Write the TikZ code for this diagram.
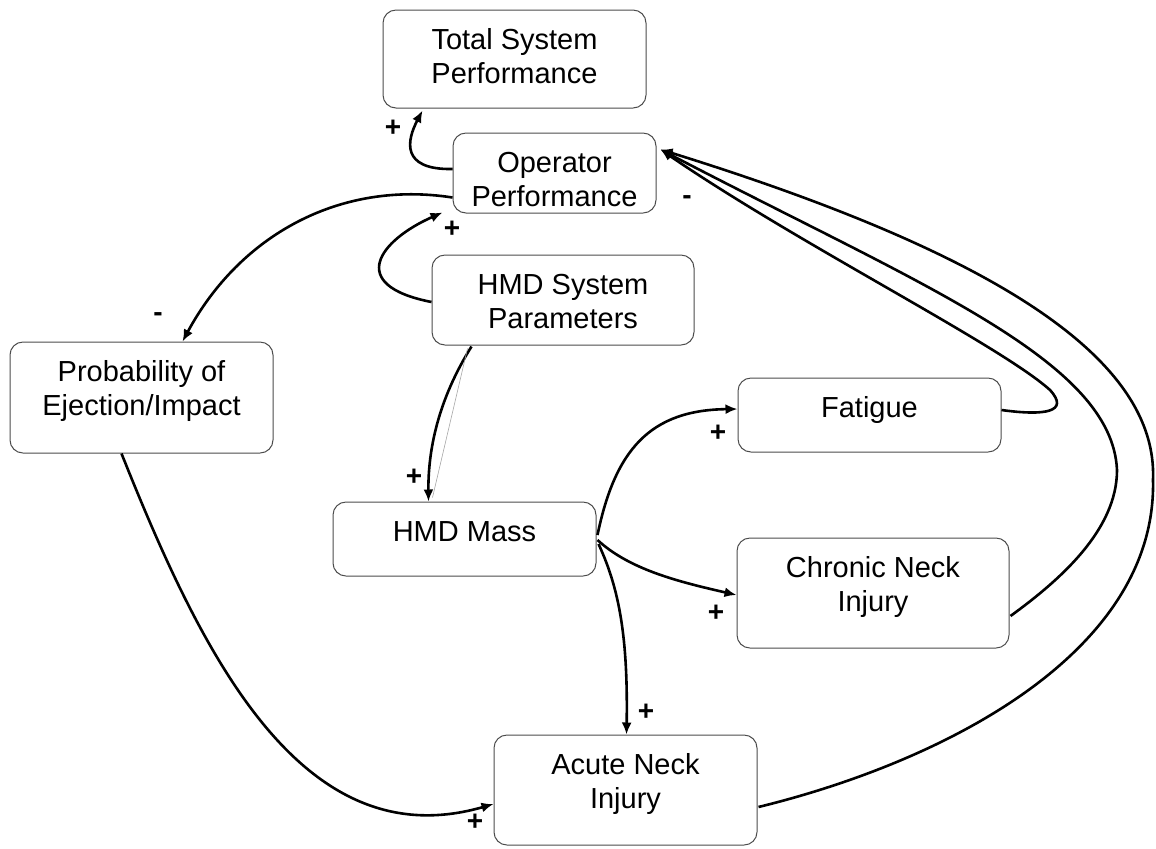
\documentclass[tikz,border=0pt]{standalone}
\usepackage{fontspec}
\setmainfont{Liberation Sans}
\usetikzlibrary{arrows.meta,calc}
\newcommand{\boxtxt}[3]{\parbox[c][#2][t]{#1}{\fontsize{14.5pt}{17pt}\selectfont\centering\rule{0pt}{19.5pt}#3\par}}
\begin{document}
\begin{tikzpicture}[x=0.5pt,y=-0.5pt,
  blk/.style={draw=black!70, line width=0.5pt, rounded corners=6.5pt, inner sep=0pt, fill=white},
  lnk/.style={line width=1.3pt, -{Latex[length=6pt,width=5pt]}},
  sgn/.style={font=\fontsize{14pt}{17pt}\selectfont\bfseries, inner sep=0pt}]
\useasboundingbox (0,0) rectangle (1156,848);

\node[blk] (tsp)  at (514.5,59)   {\boxtxt{131.5pt}{49pt}{Total System\\Performance}};
\node[blk] (op)   at (554.5,173)  {\boxtxt{101.5pt}{40pt}{Operator\\Performance}};
\node[blk] (hsp)  at (563,300)    {\boxtxt{131pt}{45pt}{HMD System\\Parameters}};
\node[blk] (prob) at (141.5,397.5){\boxtxt{131.5pt}{55.5pt}{Probability of\\Ejection/Impact}};
\node[blk] (fat)  at (869.5,415)  {\boxtxt{131.5pt}{37pt}{Fatigue}};
\node[blk] (mass) at (464.5,539)  {\boxtxt{131.5pt}{37pt}{HMD Mass}};
\node[blk] (chr)  at (873,593)    {\boxtxt{136pt}{55pt}{Chronic Neck\\Injury}};
\node[blk] (acu)  at (625.5,790)  {\boxtxt{131.5pt}{55pt}{Acute Neck\\Injury}};

\coordinate (opA)   at ($(op.west)+(0,-4)$);
\coordinate (tspA)  at ($(tsp.south west)+(40,2)$);
\coordinate (opB)   at ($(op.south west)+(0,-16)$);
\coordinate (probA) at ($(prob.north west)+(173,0)$);
\coordinate (opC)   at ($(op.south west)+(-10,-1)$);
\coordinate (hspA)  at ($(hsp.west)+(0,2)$);
\coordinate (hspB)  at ($(hsp.south west)+(40,1)$);
\coordinate (massA) at ($(mass.north west)+(96,0)$);
\coordinate (hspC)  at ($(hsp.south west)+(36,3)$);
\coordinate (massB) at ($(mass.north west)+(100,-4)$);
\coordinate (massE1) at ($(mass.east)+(1,-4)$);
\coordinate (massE2) at ($(mass.east)+(1,1)$);
\coordinate (massE3) at ($(mass.east)+(2,5)$);
\coordinate (fatA)  at ($(fat.west)+(0,-6)$);
\coordinate (chrA)  at ($(chr.west)+(0,2)$);
\coordinate (acuA)  at ($(acu.north west)+(133,0)$);
\coordinate (probB) at ($(prob.south west)+(112,0)$);
\coordinate (acuB)  at ($(acu.west)+(0,14)$);
\coordinate (fatB)  at ($(fat.east)+(0,-5)$);
\coordinate (chrB)  at ($(chr.east)+(1,23)$);
\coordinate (acuC)  at ($(acu.east)+(1,17)$);
\coordinate (opD)   at ($(op.north east)+(4,17)$);

\draw[lnk] (opA) .. controls (400,170) and (407,140) .. (tspA);
\draw[lnk] (opB) .. controls (340,180) and (240,235) .. (probA);
\draw[lnk] (hspA) .. controls (345,285) and (380,240) .. (opC);
\draw[lnk] (hspB) .. controls (438,400) and (428,450) .. (massA);
\draw[black!35, line width=0.3pt] (hspC) -- (massB);
\draw[lnk] (massE1) .. controls (615,450) and (650,410) .. (fatA);
\draw[lnk] (massE2) .. controls (630,570) and (680,582) .. (chrA);
\draw[lnk] (massE3) .. controls (620,590) and (628,640) .. (acuA);
\draw[lnk] (probB) .. controls (200,650) and (300,860) .. (acuB);
\draw[lnk] (fatB) .. controls (1045,416) and (1070,412) .. (1050,390)
                  .. controls (1000,345) and (800,245) .. (opD);
\draw[lnk] (chrB) .. controls (1060,580) and (1117,530) .. (1117,470)
                  .. controls (1112,360) and (920,285) .. (opD);
\draw[lnk] (acuC) .. controls (950,760) and (1157,650) .. (1153,480)
                  .. controls (1158,360) and (1000,255) .. (opD);

\node[sgn] (s1) at (393,128) {+};
\node[sgn] (s2) at (452,229) {+};
\node[sgn] (s3) at (414,477) {+};
\node[sgn] (s4) at (718,433) {+};
\node[sgn] (s5) at (716,613) {+};
\node[sgn] (s6) at (646,712) {+};
\node[sgn] (s7) at (475,822) {+};
\node[sgn] (m1) at (687,200) {-};
\node[sgn] (m2) at (158,317) {-};
\end{tikzpicture}
\end{document}
